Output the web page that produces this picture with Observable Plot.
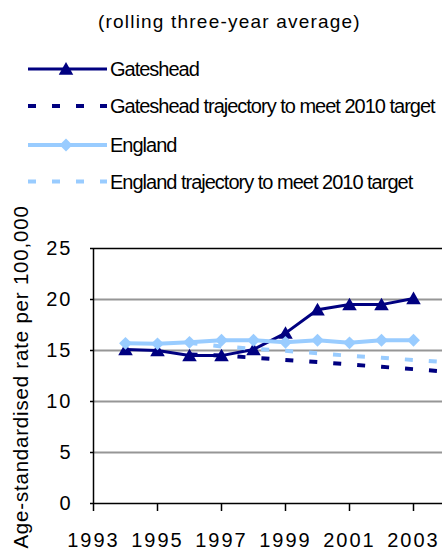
<!DOCTYPE html>
<html>
<head>
<meta charset="utf-8">
<script src="https://cdn.jsdelivr.net/npm/d3@7"></script>
<script src="https://cdn.jsdelivr.net/npm/@observablehq/plot@0.6"></script>
<style>
  body { margin: 0; background: #fff; }
  #wrap { position: relative; width: 442px; height: 550px; overflow: hidden; background: #fff;
          font-family: "Liberation Sans", Arial, sans-serif; }
  #head { position: absolute; left: 0; top: 0; }
  #plot { position: absolute; left: 0; top: 200px; }
  #ylab { position: absolute; left: 0; top: 200px; }
</style>
</head>
<body>
<div id="wrap">
  <svg id="head" width="442" height="200"></svg>
  <div id="plot"></div>
  <svg id="ylab" width="60" height="350"></svg>
</div>
<script>
// ---- data ----
const years = [1994, 1995, 1996, 1997, 1998, 1999, 2000, 2001, 2002, 2003];
const gateshead = [15.1, 15.0, 14.5, 14.5, 15.1, 16.7, 19.0, 19.5, 19.5, 20.1];
const england = [15.7, 15.65, 15.8, 16.0, 16.0, 15.8, 16.0, 15.75, 16.0, 16.0];
const trajYears = [1996, 1997, 1998, 1999, 2000, 2001, 2002, 2003, 2004, 2005];
const gatesheadTraj = [14.6, 14.5, 14.3, 14.08, 13.86, 13.63, 13.4, 13.17, 12.94, 12.72];
const englandTraj = [15.75, 15.4, 15.17, 14.97, 14.73, 14.48, 14.29, 14.07, 13.85, 13.63];
const xTicks = [1993, 1995, 1997, 1999, 2001, 2003];
const yTicks = [0, 5, 10, 15, 20, 25];
const gridValues = [5, 10, 15, 20];
const titleText = "(rolling three-year average)";
const yLabel = "Age-standardised rate per 100,000";
const seriesNames = ["Gateshead", "Gateshead trajectory to meet 2010 target", "England", "England trajectory to meet 2010 target"];

const navy = "#000080";
const light = "#99CCFF";
const font = '"Liberation Sans", Arial, sans-serif';

const G = years.map((year, i) => ({year, value: gateshead[i]}));
const E = years.map((year, i) => ({year, value: england[i]}));
const GT = trajYears.map((year, i) => ({year, value: gatesheadTraj[i]}));
const ET = trajYears.map((year, i) => ({year, value: englandTraj[i]}));

const chart = Plot.plot({
  width: 442,
  height: 350,
  marginLeft: 93,
  marginRight: 0,
  marginTop: 48,
  marginBottom: 47,
  style: {fontFamily: font, fontSize: "20px", color: "#000", background: "transparent", letterSpacing: "2px", overflow: "hidden"},
  x: {type: "linear", domain: [1993, 1993 + 349 / 32]},
  y: {domain: [0, 25]},
  marks: [
    Plot.ruleY(gridValues, {stroke: "#969696", strokeWidth: 2}),
    Plot.ruleY([25], {stroke: "#000", strokeWidth: 1.5}),
    Plot.axisX({ticks: xTicks, tickSize: 8, tickPadding: 21, tickFormat: d => String(d), label: null, strokeWidth: 1.5}),
    Plot.axisY({ticks: yTicks, tickSize: 3, tickPadding: 18, label: null, strokeWidth: 1.5}),
    Plot.ruleY([0], {stroke: "#000", strokeWidth: 1.5}),
    Plot.ruleX([1993], {stroke: "#000", strokeWidth: 1.5}),
    Plot.line(G, {x: "year", y: "value", stroke: navy, strokeWidth: 3}),
    Plot.dot(G, {x: "year", y: "value", symbol: "triangle", r: 5.4, fill: navy, stroke: null, dy: 1.5}),
    Plot.line(GT, {x: "year", y: "value", stroke: navy, strokeWidth: 4, strokeDasharray: "8,16", strokeLinecap: "butt", clip: true}),
    Plot.line(E, {x: "year", y: "value", stroke: light, strokeWidth: 4}),
    Plot.dot(E, {x: "year", y: "value", symbol: "diamond2", r: 5.8, fill: light, stroke: null}),
    Plot.line(ET, {x: "year", y: "value", stroke: light, strokeWidth: 4, strokeDasharray: "8,16", strokeLinecap: "butt", clip: true})
  ]
});
document.getElementById("plot").appendChild(chart);

// ---- y axis label ----
const ylab = d3.select("#ylab");
ylab.append("text")
  .attr("transform", "translate(28,177) rotate(-90)")
  .attr("text-anchor", "middle")
  .attr("font-family", font)
  .attr("font-size", 20.5)
  .attr("letter-spacing", "0.8px")
  .attr("fill", "#000")
  .text(yLabel);

// ---- title + legend ----
const head = d3.select("#head");
head.append("text")
  .attr("x", 98).attr("y", 28)
  .attr("font-family", font).attr("font-size", 19)
  .attr("letter-spacing", "1.2px").attr("fill", "#000")
  .text(titleText);

const rows = [
  {name: seriesNames[0], color: navy, dash: null, width: 3, symbol: d3.symbolTriangle, r: 5.4, cy: 69, base: 76},
  {name: seriesNames[1], color: navy, dash: "8,16", width: 4, symbol: null, cy: 106, base: 113},
  {name: seriesNames[2], color: light, dash: null, width: 4, symbol: d3.symbolDiamond2, r: 5.8, cy: 145, base: 152},
  {name: seriesNames[3], color: light, dash: "8,16", width: 4, symbol: null, cy: 181.5, base: 188.5}
];
rows.forEach(r => {
  const line = head.append("line")
    .attr("x1", 28).attr("x2", 107).attr("y1", r.cy).attr("y2", r.cy)
    .attr("stroke", r.color).attr("stroke-width", r.width);
  if (r.dash) line.attr("stroke-dasharray", r.dash);
  if (r.symbol) {
    head.append("path")
      .attr("transform", `translate(66,${r.cy + (r.symbol === d3.symbolTriangle ? 1.5 : 0)})`)
      .attr("d", d3.symbol(r.symbol, r.r * r.r * Math.PI)())
      .attr("fill", r.color);
  }
  head.append("text")
    .attr("x", 110).attr("y", r.base)
    .attr("font-family", font).attr("font-size", 20)
    .attr("letter-spacing", "-1px").attr("fill", "#000")
    .text(r.name);
});
</script>
</body>
</html>
